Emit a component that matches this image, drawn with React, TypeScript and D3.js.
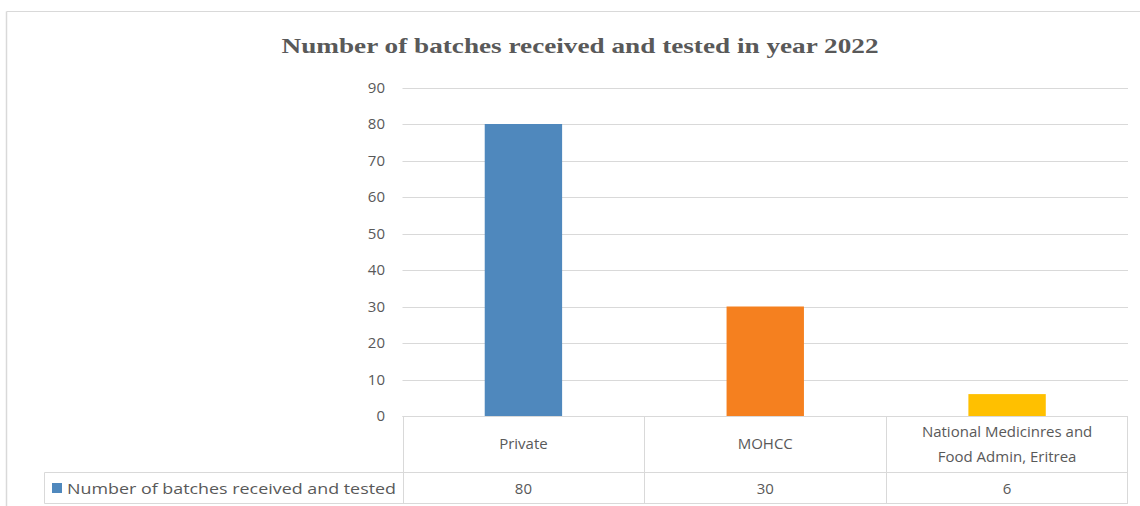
import React from "react";
import * as d3 from "d3";

const categories = ["Private", "MOHCC", "National Medicinres and\nFood Admin, Eritrea"];
const values = [80, 30, 6];
const barColors = ["#4f88bd", "#f5801f", "#ffc000"];
const yTicks = [0, 10, 20, 30, 40, 50, 60, 70, 80, 90];
const seriesName = "Number of batches received and tested";
const title = "Number  of batches received and  tested in year 2022";

const W = 1140;
const H = 506;

export default function App() {
  const x = d3
    .scaleBand<number>()
    .domain(categories.map((_, i) => i))
    .range([402.5, 1128])
    .paddingInner(0.68)
    .paddingOuter(0.34);
  const xCell = d3
    .scaleBand<number>()
    .domain(categories.map((_, i) => i))
    .range([402.5, 1128]);
  const y = d3.scaleLinear().domain([0, 90]).range([416, 87.5]);
  const grey = "#595959";
  const line = "#d9d9d9";
  const font = "'Open Sans', 'Liberation Sans', sans-serif";

  return (
    <svg
      width={W}
      height={H}
      style={{ position: "absolute", left: 0, top: 0, background: "#fff" }}
      fontFamily={font}
    >
      <rect x={0} y={0} width={W} height={H} fill="#fff" />
      {/* outer frame */}
      <line x1={6.5} x2={W} y1={11.5} y2={11.5} stroke={line} strokeWidth={1} />
      <line x1={6.5} x2={6.5} y1={11.5} y2={H} stroke={line} strokeWidth={1.5} />

      <text
        x={580}
        y={53}
        textAnchor="middle"
        fontFamily="'Liberation Serif', 'Times New Roman', serif"
        fontWeight="bold"
        fontSize={22}
        fill={grey}
        textLength={597}
        lengthAdjust="spacingAndGlyphs"
      >
        {title}
      </text>

      {/* gridlines */}
      {yTicks.map((t) => (
        <line
          key={"g" + t}
          x1={402.5}
          x2={1128}
          y1={Math.round(y(t)) + 0.5}
          y2={Math.round(y(t)) + 0.5}
          stroke={line}
          strokeWidth={1}
        />
      ))}
      {yTicks.map((t) => (
        <text
          key={"t" + t}
          x={385}
          y={y(t) + 5}
          textAnchor="end"
          fontSize={15}
          fill={grey}
        >
          {t}
        </text>
      ))}

      {/* bars */}
      {values.map((v, i) => (
        <rect
          key={"b" + i}
          x={x(i)}
          y={y(v)}
          width={x.bandwidth()}
          height={y(0) - y(v)}
          fill={barColors[i]}
        />
      ))}

      {/* data table */}
      <line x1={402.5} x2={1128} y1={416.5} y2={416.5} stroke={line} />
      <line x1={44.5} x2={1128} y1={472.5} y2={472.5} stroke={line} />
      <line x1={44.5} x2={1128} y1={503.5} y2={503.5} stroke={line} />
      <line x1={44.5} x2={44.5} y1={472.5} y2={503.5} stroke={line} />
      {categories.map((_, i) => (
        <line
          key={"v" + i}
          x1={Math.round(xCell(i)!) + 0.5}
          x2={Math.round(xCell(i)!) + 0.5}
          y1={416.5}
          y2={503.5}
          stroke={line}
        />
      ))}
      <line x1={1127.5} x2={1127.5} y1={416.5} y2={503.5} stroke={line} />

      {categories.map((c, i) => {
        const lines = c.split("\n");
        const cx = xCell(i)! + xCell.bandwidth() / 2;
        const midY = 444;
        return (
          <text key={"c" + i} x={cx} textAnchor="middle" fontSize={15} fill={grey}>
            {lines.map((l, j) => (
              <tspan
                key={j}
                x={cx}
                y={midY + 5 + (j - (lines.length - 1) / 2) * 25}
              >
                {l}
              </tspan>
            ))}
          </text>
        );
      })}
      {values.map((v, i) => (
        <text
          key={"val" + i}
          x={xCell(i)! + xCell.bandwidth() / 2}
          y={494}
          textAnchor="middle"
          fontSize={15}
          fill={grey}
        >
          {v}
        </text>
      ))}
      <rect x={52} y={483} width={10} height={10} fill={barColors[0]} />
      <text x={67} y={494} fontSize={15} fill={grey} textLength={329} lengthAdjust="spacingAndGlyphs">
        {seriesName}
      </text>
    </svg>
  );
}
